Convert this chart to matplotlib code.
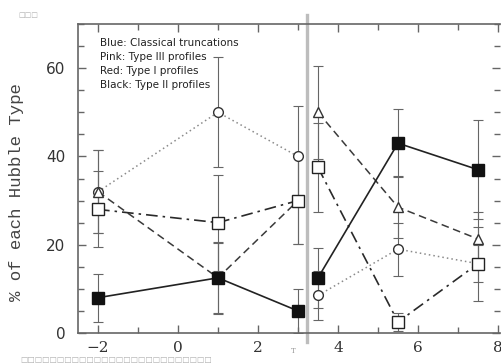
import matplotlib
matplotlib.use("Agg")
import matplotlib.pyplot as plt
import numpy as np

# Bin positions (left group: -2, 1, 3; right group: 3.5, 5.5, 7.5)
x_left = [-2, 1, 3]
x_right = [3.5, 5.5, 7.5]

# Percent of each Hubble type per profile class, with symmetric errors
type2_y = [8, 12.5, 5, 12.5, 43, 37]          # filled squares, solid
type2_err = [5.4, 8.2, 5, 6.8, 7.7, 11.2]
type3_y = [32, 50, 40, 8.5, 19, 15.7]         # open circles, dotted
type3_err = [9.4, 12.5, 11.4, 5.6, 6, 4.2]
type1_y = [32, 12.5, 30, 50, 28.5, 21.3]      # open triangles, dashed
type1_err = [9.4, 8, 9.8, 10.5, 7, 6]
classic_y = [28, 25, 30, 37.5, 2.5, 15.7]     # open squares, dash-dot
classic_err = [8.6, 10.9, 9.8, 10, 2, 8.4]

legend_lines = ["Blue: Classical truncations",
                "Pink: Type III profiles",
                "Red: Type I profiles",
                "Black: Type II profiles"]
xtick_vals = [-2, 0, 2, 4, 6, 8]
ytick_vals = [0, 20, 40, 60]
ylabel = "% of each Hubble Type"
split_x = 3.22

fig = plt.figure(figsize=(5.02, 3.64), dpi=100)
ax = fig.add_axes([78 / 502, 31 / 364, 422 / 502, 309 / 364])
ax.set_xlim(-2.5, 8.05)
ax.set_ylim(0, 70)

series = [
    (type3_y, type3_err, dict(marker="o", mfc="white", mec="#333333", ms=7,
                              ls=(0, (1, 2)), color="#8a8a8a", lw=1.1)),
    (type1_y, type1_err, dict(marker="^", mfc="white", mec="#333333", ms=7,
                              ls=(0, (5, 3)), color="#3a3a3a", lw=1.1)),
    (classic_y, classic_err, dict(marker="s", mfc="white", mec="#222222", ms=8,
                                  ls=(0, (7, 3, 1.5, 3)), color="#2a2a2a", lw=1.2)),
    (type2_y, type2_err, dict(marker="s", mfc="#111111", mec="#111111", ms=8,
                              ls="-", color="#222222", lw=1.2)),
]

for yv, ev, st in series:
    for xs, ys, es in ((x_left, yv[:3], ev[:3]), (x_right, yv[3:], ev[3:])):
        ax.errorbar(xs, ys, yerr=es, fmt="none", ecolor="#666666",
                    elinewidth=0.8, capsize=3.6, capthick=0.8, zorder=2)
        ax.plot(xs, ys, zorder=3, mew=1.0, **st)

# Divider between the two groups
ax.axvline(split_x, ymin=-0.03, ymax=1.03, color="#bdbdbd", lw=2.4,
           clip_on=False, zorder=1)

# Axes styling
for s in ax.spines.values():
    s.set_color("#666666")
    s.set_linewidth(1.2)
ax.spines["right"].set_visible(False)

ax.set_xticks(xtick_vals)
ax.set_xticks(np.arange(-2, 9, 1), minor=True)
ax.set_yticks(ytick_vals)
ax.set_yticks(np.arange(0, 71, 5), minor=True)
ax.tick_params(which="both", direction="in", top=True, right=True,
               color="#666666", width=1.0)
ax.tick_params(which="major", length=6, pad=6)
ax.tick_params(which="minor", length=4)
ax.tick_params(axis="x", which="major", labelsize=11, pad=6)
ax.tick_params(axis="y", which="major", labelsize=11, pad=9)
ax.set_xticklabels([("\u2212" + str(-v)) if v < 0 else str(v) for v in xtick_vals],
                   family="DejaVu Serif", color="#333333")
ax.set_yticklabels([str(v) for v in ytick_vals], family="DejaVu Sans",
                   color="#333333")

ax.set_ylabel(ylabel, family="Liberation Mono", fontsize=12.5, color="#444444")
ax.yaxis.set_label_coords(-0.128, 0.455)

# Colour key text
for i, line in enumerate(legend_lines):
    fig.text(100 / 502, 1 - (43 + 14 * i) / 364, line, fontsize=7.5,
             color="#222222", va="center", ha="left", family="DejaVu Sans")

# Placeholder glyph strings
fig.text(18 / 502, 1 - 15 / 364, "\u25a1\u25a1\u25a1", fontsize=5,
         color="#b0b0b0", va="center", ha="left", family="DejaVu Sans")
fig.text(20 / 502, 1 - 359.5 / 364, "\u25a1" * 26, fontsize=5.6,
         color="#b0b0b0", va="center", ha="left", family="DejaVu Sans")
fig.text(293 / 502, 1 - 351 / 364, "T", fontsize=5, color="#999999",
         va="center", ha="center", family="DejaVu Serif")

fig.savefig("out.png", dpi=100)
